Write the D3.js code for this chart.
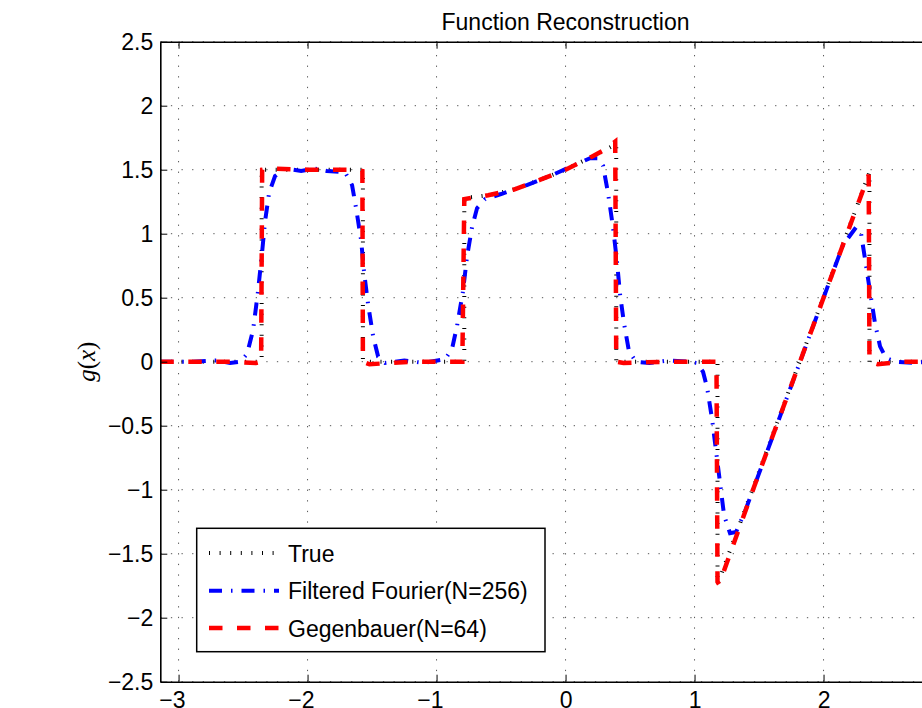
<!DOCTYPE html>
<html>
<head>
<meta charset="UTF-8">
<title>Function Reconstruction</title>
<script src="https://cdn.jsdelivr.net/npm/d3@7"></script>
<style>
  body { margin: 0; background: #fff; }
  text { font-family: "Liberation Sans", Arial, sans-serif; }
</style>
</head>
<body>
<svg id="svg" width="922" height="708"></svg>
<script>
// values
const trueX = [-3.1416, -2.356, -2.356, -1.571, -1.571, -0.785, -0.785, -0.6, -0.4, -0.2, 0.0, 0.2, 0.3, 0.393, 0.393, 1.178, 1.178, 2.356, 2.356, 3.1416];
const trueY = [0, 0, 1.5, 1.5, 0, 0, 1.28, 1.30, 1.345, 1.42, 1.50, 1.60, 1.65, 1.70, 0, 0, -1.74, 1.48, 0, 0];

const fourierX = [-3.1416, -2.9, -2.7, -2.6, -2.523, -2.469, -2.422, -2.384, -2.353, -2.329, -2.298, -2.252, -2.174, -2.05, -1.95, -1.85,
  -1.709, -1.655, -1.624, -1.585, -1.562, -1.531, -1.492, -1.453, -1.399, -1.25, -1.1,
  -0.934, -0.880, -0.841, -0.795, -0.764, -0.725, -0.686, -0.624, -0.5, -0.3, -0.1, 0.1, 0.19,
  0.252, 0.291, 0.329, 0.368, 0.399, 0.422, 0.453, 0.492, 0.547, 0.65, 0.8, 0.95,
  1.019, 1.066, 1.097, 1.136, 1.167, 1.198, 1.229, 1.275, 1.322, 1.391, 1.6, 1.8, 2.0, 2.15,
  2.252, 2.291, 2.322, 2.360, 2.399, 2.438, 2.484, 2.554, 2.7, 2.9, 3.1416];
const fourierY = [0, 0, 0.01, -0.01, 0.0, 0.06, 0.25, 0.55, 0.85, 1.10, 1.32, 1.45, 1.51, 1.49, 1.51, 1.49,
  1.48, 1.38, 1.20, 0.95, 0.70, 0.45, 0.20, 0.04, -0.01, 0.01, -0.01,
  0.02, 0.10, 0.28, 0.55, 0.82, 1.05, 1.20, 1.27, 1.31, 1.38, 1.46, 1.55, 1.59,
  1.59, 1.53, 1.32, 1.05, 0.78, 0.53, 0.30, 0.08, 0.0, -0.01, 0.01, 0.0,
  -0.01, -0.08, -0.20, -0.45, -0.70, -0.95, -1.20, -1.34, -1.33, -1.17, -0.6, -0.05, 0.5, 0.91,
  1.05, 1.0, 0.8, 0.55, 0.3, 0.12, 0.03, 0.0, -0.01, 0.01, 0];

const gegenX = [-3.1416, -2.6, -2.40, -2.36, -2.352, -2.3, -2.0, -1.62, -1.575, -1.571, -1.52, -1.2, -0.8, -0.785,
  -0.6, -0.4, -0.2, 0.0, 0.2, 0.3, 0.385, 0.393, 0.45, 0.8, 1.17, 1.178, 1.19, 1.5, 2.0, 2.35, 2.356, 2.42, 2.6, 3.1416];
const gegenY = [0, 0, -0.01, 0, 1.5, 1.51, 1.5, 1.5, 1.49, 0, -0.02, 0, 0, 1.27,
  1.30, 1.345, 1.42, 1.50, 1.60, 1.655, 1.72, 0, -0.01, 0, 0, -1.72, -1.74, -0.87, 0.5, 1.46, 0, -0.02, 0, 0];

const xTicks = [-3, -2, -1, 0, 1, 2, 3];
const yTicks = [-2.5, -2, -1.5, -1, -0.5, 0, 0.5, 1, 1.5, 2, 2.5];
const legendLabels = ["True", "Filtered Fourier(N=256)", "Gegenbauer(N=64)"];

const svg = d3.select("#svg");
const axLeft = 160.3, axRight = 970.8, axTop = 41.7, axBottom = 681.7;

const x = d3.scaleLinear().domain([-Math.PI, Math.PI]).range([axLeft, axRight]);
const y = d3.scaleLinear().domain([-2.5, 2.5]).range([axBottom, axTop]);
const fmt = d => (d < 0 ? "\u2212" : "") + Math.abs(d);

// grid
const grid = svg.append("g").attr("stroke", "#555").attr("stroke-width", 1).attr("stroke-dasharray", "1.3,9.3");
grid.selectAll("line.gx").data(xTicks).enter().append("line")
  .attr("x1", d => x(d)).attr("x2", d => x(d)).attr("y1", axBottom).attr("y2", axTop);
grid.selectAll("line.gy").data(yTicks).enter().append("line")
  .attr("y1", d => y(d)).attr("y2", d => y(d)).attr("x1", axLeft).attr("x2", axRight);

// plot lines
svg.append("clipPath").attr("id", "clip").append("rect")
  .attr("x", axLeft).attr("y", axTop).attr("width", axRight - axLeft).attr("height", axBottom - axTop);

const line = d3.line().x(d => x(d[0])).y(d => y(d[1]));
const plot = svg.append("g").attr("clip-path", "url(#clip)").attr("fill", "none");

const series = [
  { xs: trueX, ys: trueY, color: "#000", width: 4, dash: "1,9.6" },
  { xs: fourierX, ys: fourierY, color: "#0000ff", width: 4, dash: "13,9,1.5,9" },
  { xs: gegenX, ys: gegenY, color: "#ff0000", width: 4.5, dash: "13.5,14.5" }
];
series.forEach(s => {
  plot.append("path")
    .datum(s.xs.map((v, i) => [v, s.ys[i]]))
    .attr("d", line)
    .attr("stroke", s.color)
    .attr("stroke-width", s.width)
    .attr("stroke-dasharray", s.dash);
});

// axes
const styleAxis = g => {
  g.select(".domain").attr("stroke", "#000").attr("stroke-width", 1.6);
  g.selectAll(".tick line").attr("stroke", "#000").attr("stroke-width", 1);
  g.selectAll("text").attr("font-size", 23).attr("fill", "#000")
    .attr("font-family", "'Liberation Sans', Arial, sans-serif");
};

svg.append("g").attr("transform", `translate(0,${axBottom})`)
  .call(d3.axisBottom(x).tickValues(xTicks).tickFormat(fmt).tickSizeInner(-7).tickSizeOuter(0).tickPadding(9.5))
  .call(styleAxis)
  .call(g => g.selectAll("text").attr("text-anchor", "end").attr("dx", 6.4));

svg.append("g").attr("transform", `translate(0,${axTop})`)
  .call(d3.axisTop(x).tickValues(xTicks).tickFormat("").tickSizeInner(-7).tickSizeOuter(0))
  .call(styleAxis);

svg.append("g").attr("transform", `translate(${axLeft},0)`)
  .call(d3.axisLeft(y).tickValues(yTicks).tickFormat(fmt).tickSizeInner(-7).tickSizeOuter(0).tickPadding(7))
  .call(styleAxis)
  .call(g => g.selectAll("text").attr("dy", "0.33em"));

svg.append("g").attr("transform", `translate(${axRight},0)`)
  .call(d3.axisRight(y).tickValues(yTicks).tickFormat("").tickSizeInner(-7).tickSizeOuter(0))
  .call(styleAxis);

// title and y label
svg.append("text").attr("x", (axLeft + axRight) / 2).attr("y", 30)
  .attr("text-anchor", "middle").attr("font-size", 23).text("Function Reconstruction");

const yl = svg.append("text")
  .attr("transform", `translate(87,${y(0)}) rotate(-90)`)
  .attr("text-anchor", "middle").attr("dy", "0.3em")
  .attr("font-size", 25)
  .style("font-family", "'Liberation Serif', 'Times New Roman', serif");
yl.append("tspan").attr("font-style", "italic").text("g");
yl.append("tspan").text("(");
yl.append("tspan").attr("font-style", "italic").text("x");
yl.append("tspan").text(")");

// legend
const leg = svg.append("g");
leg.append("rect").attr("x", 196.7).attr("y", 528.3).attr("width", 348.3).attr("height", 123.4)
  .attr("fill", "#fff").attr("stroke", "#000").attr("stroke-width", 1.5);
const rowY = [553, 590.7, 628];
series.forEach((s, i) => {
  leg.append("line").attr("x1", 209).attr("x2", 279).attr("y1", rowY[i]).attr("y2", rowY[i])
    .attr("stroke", s.color).attr("stroke-width", s.width).attr("stroke-dasharray", s.dash);
  leg.append("text").attr("x", 288).attr("y", rowY[i] + 8.5).attr("font-size", 23).text(legendLabels[i]);
});
</script>
</body>
</html>
